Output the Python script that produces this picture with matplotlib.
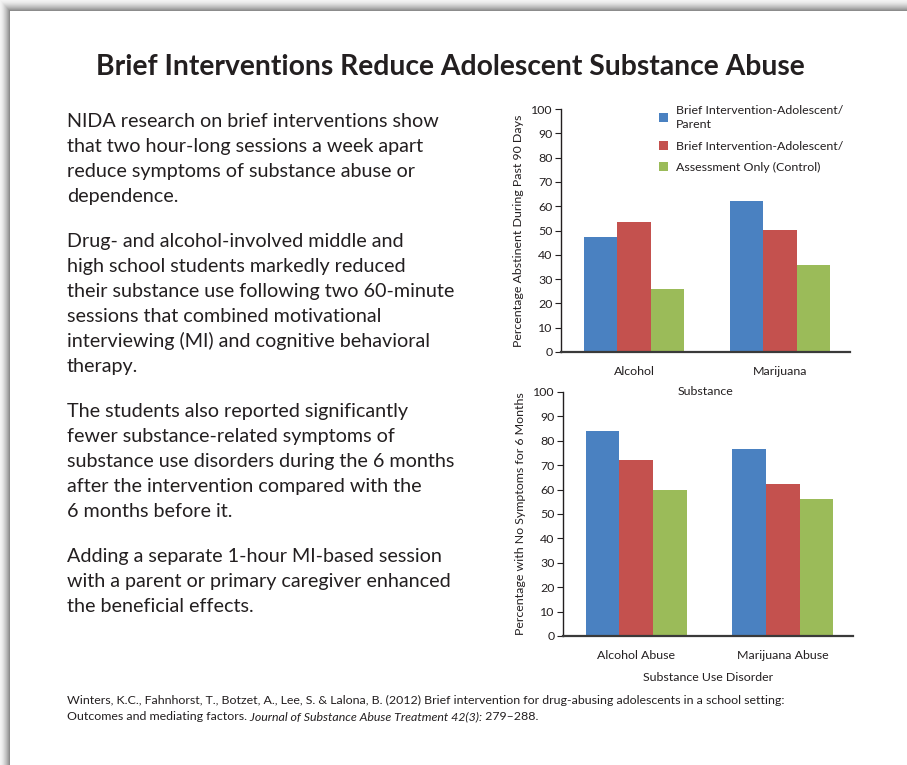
import numpy as np
import matplotlib
matplotlib.use("Agg")
import matplotlib.pyplot as plt

# ── data ─────────────────────────────────────────────────────────────
series_labels = [
    "Brief Intervention-Adolescent/\nParent",
    "Brief Intervention-Adolescent/",
    "Assessment Only (Control)",
]
colors = ["#4a81c1", "#c4514e", "#9bbb59"]

abstinent_cats = ["Alcohol", "Marijuana"]
abstinent_vals = [
    [47.5, 62.2],   # adolescent/parent
    [53.7, 50.4],   # adolescent
    [25.8, 36.0],   # control
]

symptom_cats = ["Alcohol Abuse", "Marijuana Abuse"]
symptom_vals = [
    [84.0, 76.6],
    [72.0, 62.2],
    [59.8, 56.0],
]

title = "Brief Interventions Reduce Adolescent Substance Abuse"
paragraphs = [
    ["NIDA research on brief interventions show",
     "that two hour-long sessions a week apart",
     "reduce symptoms of substance abuse or",
     "dependence."],
    ["Drug- and alcohol-involved middle and",
     "high school students markedly reduced",
     "their substance use following two 60-minute",
     "sessions that combined motivational",
     "interviewing (MI) and cognitive behavioral",
     "therapy."],
    ["The students also reported significantly",
     "fewer substance-related symptoms of",
     "substance use disorders during the 6 months",
     "after the intervention compared with the",
     "6 months before it."],
    ["Adding a separate 1-hour MI-based session",
     "with a parent or primary caregiver enhanced",
     "the beneficial effects."],
]
citation_1 = ("Winters, K.C., Fahnhorst, T., Botzet, A., Lee, S. & Lalona, B. (2012) "
              "Brief intervention for drug-abusing adolescents in a school setting:")
citation_2 = [("Outcomes and mediating factors.", "normal"),
              (" Journal of Substance Abuse Treatment 42(3):", "italic"),
              (" 279\u2013288.", "normal")]

# ── figure ───────────────────────────────────────────────────────────
W, H = 907, 765
INK = "#231f20"
plt.rcParams["font.family"] = ["Lato", "DejaVu Sans"]
fig = plt.figure(figsize=(W / 100, H / 100), dpi=100)
fig.patch.set_facecolor("white")


def fx(x):
    return x / W


def fy(y):
    return 1 - y / H


# page shadow along the top and left edges
bg = fig.add_axes([0, 0, 1, 1], zorder=-10)
edge_x, edge_y = 10, 11
xs = np.arange(W)[None, :]
ys = np.arange(H)[:, None]
t = np.minimum(np.where(xs < edge_x, xs / (edge_x - 1), 2.0),
               np.where(ys < edge_y, ys / (edge_y - 1), 2.0))
img = np.where(t <= 1, 0.95 - 0.4 * np.clip(t, 0, 1) ** 1.5, 1.0)
bg.imshow(img, cmap="gray", vmin=0, vmax=1, aspect="auto", interpolation="nearest")
bg.axis("off")

# title
fig.text(fx(450), fy(75), title, ha="center", va="baseline",
         fontsize=20.3, fontweight="bold", color=INK)

# body text
y = 126.7
for para in paragraphs:
    for line in para:
        fig.text(fx(67), fy(y), line, ha="left", va="baseline",
                 fontsize=14.2, color=INK)
        y += 25
    y += 20

# citation (second line mixes upright and italic pieces)
fig.text(fx(67), fy(704), citation_1, ha="left", va="baseline",
         fontsize=8.9, color=INK)
renderer = fig.canvas.get_renderer()
x_px = 67
for part, style in citation_2:
    t = fig.text(fx(x_px), fy(720), part, ha="left", va="baseline",
                 fontsize=8.9, style=style, color=INK)
    x_px += t.get_window_extent(renderer).width


def bar_chart(rect, cats, vals, ylabel, xlabel, xlabelpad=8, legend=False):
    ax = fig.add_axes(rect)
    ax.patch.set_visible(False)
    x = np.arange(len(cats))
    w = 0.23
    for k, (v, c, lab) in enumerate(zip(vals, colors, series_labels)):
        ax.bar(x + (k - 1) * w, v, width=w, color=c, label=lab, zorder=2)
    ax.set_xlim(-0.5, 1.48)
    ax.set_ylim(0, 100)
    ax.set_yticks(range(0, 101, 10))
    ax.set_xticks(x)
    ax.set_xticklabels(cats)
    for s in ["top", "right"]:
        ax.spines[s].set_visible(False)
    ax.spines["left"].set_color(INK)
    ax.spines["left"].set_linewidth(1.0)
    ax.spines["bottom"].set_color("#3a3a3a")
    ax.spines["bottom"].set_linewidth(1.6)
    ax.tick_params(axis="y", length=4, width=0.8, color=INK,
                   labelsize=8.9, labelcolor=INK, pad=2)
    ax.tick_params(axis="x", length=0, labelsize=8.9, labelcolor=INK, pad=10)
    ax.set_ylabel(ylabel, fontsize=8.9, color=INK, labelpad=5)
    ax.set_xlabel(xlabel, fontsize=8.9, color=INK, labelpad=xlabelpad)
    if legend:
        leg = ax.legend(loc="upper left", bbox_to_anchor=(fx(654), fy(100)),
                        bbox_transform=fig.transFigure, frameon=False, fontsize=8.9,
                        handlelength=0.75, handleheight=0.75, handletextpad=0.6,
                        labelspacing=0.85, borderaxespad=0, labelcolor=INK)
        leg.get_texts()[0].set_linespacing(1.35)
    return ax


bar_chart([fx(561), fy(352), fx(850) - fx(561), fy(109) - fy(352)],
          abstinent_cats, abstinent_vals,
          "Percentage Abstinent During Past 90 Days", "Substance",
          xlabelpad=6.5, legend=True)
bar_chart([fx(563), fy(636), fx(853) - fx(563), fy(392) - fy(636)],
          symptom_cats, symptom_vals,
          "Percentage with No Symptoms for 6 Months", "Substance Use Disorder",
          xlabelpad=8.3)

fig.savefig("out.png", dpi=100)
